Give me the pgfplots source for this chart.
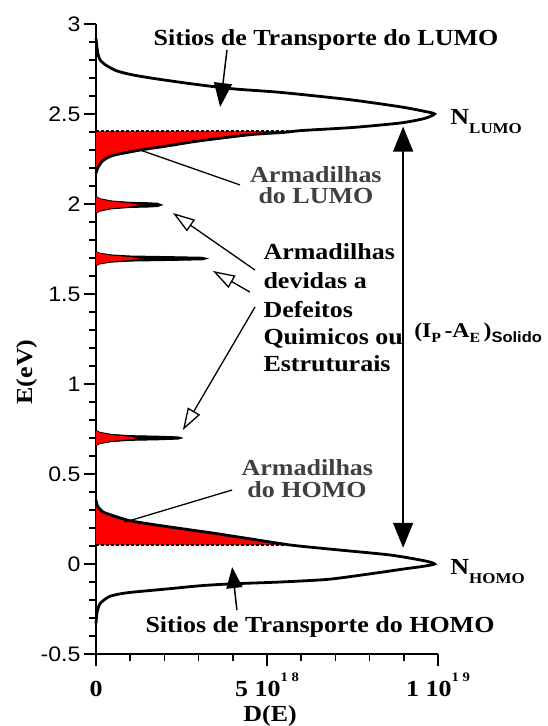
\documentclass[border=0pt]{standalone}
\usepackage{fontspec}
\setmainfont{Liberation Serif}[FakeStretch=1.13]
\newfontfamily\ticksans{Liberation Sans}[FakeStretch=1.1]
\usepackage{pgfplots}
\pgfplotsset{compat=1.18}
\usetikzlibrary{arrows.meta}

\definecolor{trapgray}{gray}{0.25}
\newcommand{\lbl}{\fontsize{23}{28}\selectfont\bfseries}
\newcommand{\sub}[1]{\raisebox{-9pt}{\fontsize{15}{15}\selectfont\bfseries #1}}
\newcommand{\expo}[1]{\raisebox{15pt}{\fontsize{13}{13}\selectfont\bfseries #1}}

\begin{document}
\begin{tikzpicture}
\path[use as bounding box] (-96pt,-72pt) rectangle (451pt,654pt);
\begin{axis}[
  at={(0,0)}, anchor=south west,
  scale only axis, width=342pt, height=630pt,
  xmin=0, xmax=10, ymin=-0.5, ymax=3,
  axis x line*=bottom, axis y line*=left,
  axis line style={line width=1.8pt, -},
  tick align=outside,
  major tick length=12pt, minor tick length=7pt,
  every tick/.style={black, line width=1.5pt},
  xtick={0,5,10}, minor xtick={1,2,3,4,6,7,8,9},
  xticklabels={0, {5 10\expo{1 8}}, {1 10\expo{1 9}}},
  ytick={-0.5,0,...,3}, minor y tick num=4,
  yticklabels={-0.5,0,0.5,1,1.5,2,2.5,3},
  xticklabel style={font=\lbl, anchor=base, text depth=0pt, yshift=-30pt},
  yticklabel style={font=\ticksans\fontsize{21}{21}\selectfont},
  xlabel={D(E)},
  xlabel style={font=\lbl, at={(axis description cs:0.509,0)}, anchor=base, yshift=-67pt},
  ylabel={E(eV)},
  ylabel style={font=\lbl, at={(axis description cs:0,0.4476)}, anchor=base, yshift=63pt},
  clip=false,
]

% trap tails below the LUMO band (between the curve and E = 2.405)
\addplot[fill=red, draw=none] coordinates {
  (0,2.405) (5.8,2.405) (5.5,2.398) (4.5,2.385) (3.0,2.35) (2.0,2.32)
  (1.3,2.30) (0.5,2.27) (0.2,2.24) (0.05,2.20) (0,2.17)} -- cycle;

% trap tails above the HOMO band (between the curve and E = 0.105)
\addplot[fill=red, draw=none] coordinates {
  (0,0.105) (5.7,0.105) (4.5,0.14) (3.3,0.175) (2.0,0.21) (1.0,0.24)
  (0.4,0.275) (0.2,0.29) (0.05,0.32) (0,0.355)} -- cycle;

% LUMO density of states
\addplot[black, line width=2.8pt, smooth, tension=0.4] coordinates {
  (0,2.92) (0.05,2.84) (0.12,2.80) (0.3,2.77) (0.6,2.74) (1.0,2.72)
  (1.6,2.70) (2.7,2.67) (4.0,2.64) (5.4,2.62) (7.4,2.58) (8.9,2.54)
  (9.6,2.515) (9.9,2.50) (9.6,2.475) (8.9,2.45) (7.5,2.425) (6.0,2.408)
  (5.5,2.398) (4.5,2.385) (3.0,2.35) (2.0,2.32) (1.3,2.30) (0.5,2.27)
  (0.2,2.24) (0.05,2.20) (0,2.17)};

% HOMO density of states
\addplot[black, line width=2.8pt, smooth, tension=0.4] coordinates {
  (0,0.355) (0.05,0.32) (0.2,0.29) (0.4,0.275) (1.0,0.24) (2.0,0.21)
  (3.3,0.175) (4.5,0.14) (5.7,0.105) (7.1,0.078) (8.6,0.05) (9.6,0.018)
  (9.9,0.0) (9.5,-0.015) (9.1,-0.025) (8.0,-0.055) (6.8,-0.085)
  (5.4,-0.10) (4.0,-0.11) (3.1,-0.12) (2.0,-0.14) (0.9,-0.16)
  (0.4,-0.18) (0.12,-0.22) (0.03,-0.27) (0,-0.33)};

% trap-edge reference levels
\addplot[black, line width=1.2pt, dash pattern=on 3pt off 2pt] coordinates {(0,2.405) (5.8,2.405)};
\addplot[black, line width=1.2pt, dash pattern=on 3pt off 2pt] coordinates {(0,0.105) (5.7,0.105)};

% discrete traps from chemical / structural defects
\addplot[fill=black, draw=black, line width=1pt] coordinates {
  (0,2.042) (0.1,2.030) (0.44,2.017) (1.0,2.009) (1.5,2.007) (1.8,2.004)
  (1.93,1.995) (1.8,1.986) (1.5,1.983) (1.0,1.981) (0.44,1.973)
  (0.1,1.960) (0,1.948)} -- cycle;
\addplot[fill=red, draw=none] coordinates {
  (0,2.040) (0.1,2.028) (0.44,2.014) (1.0,2.004) (1.29,1.995)
  (1.0,1.986) (0.44,1.976) (0.1,1.962) (0,1.950)} -- cycle;

\addplot[fill=black, draw=black, line width=1pt] coordinates {
  (0,1.736) (0.1,1.727) (0.44,1.717) (1.0,1.711) (2.0,1.708) (3.1,1.704)
  (3.25,1.697) (3.1,1.690) (2.0,1.686) (1.0,1.683) (0.44,1.677)
  (0.1,1.667) (0,1.658)} -- cycle;
\addplot[fill=red, draw=none] coordinates {
  (0,1.734) (0.1,1.725) (0.44,1.714) (1.0,1.705) (1.29,1.697)
  (1.0,1.689) (0.44,1.680) (0.1,1.669) (0,1.660)} -- cycle;

\addplot[fill=black, draw=black, line width=1pt] coordinates {
  (0,0.742) (0.1,0.732) (0.44,0.720) (1.0,0.713) (1.8,0.710) (2.4,0.706)
  (2.51,0.700) (2.4,0.694) (1.8,0.690) (1.0,0.687) (0.44,0.680)
  (0.1,0.668) (0,0.658)} -- cycle;
\addplot[fill=red, draw=none] coordinates {
  (0,0.740) (0.1,0.730) (0.44,0.717) (1.0,0.707) (1.23,0.700)
  (1.0,0.693) (0.44,0.683) (0.1,0.670) (0,0.660)} -- cycle;

% band labels and arrows
\node[font=\lbl, anchor=base] at (axis cs:6.725,2.883) {Sitios de Transporte do LUMO};
\draw[line width=1.5pt, -{Triangle[length=24pt, width=18pt]}]
  (axis cs:3.83,2.856) -- (axis cs:3.63,2.539);

\node[font=\lbl, anchor=base] at (axis cs:6.55,-0.378) {Sitios de Transporte do HOMO};
\draw[line width=1.5pt, -{Triangle[length=21pt, width=16pt]}]
  (axis cs:4.12,-0.256) -- (axis cs:3.98,-0.017);

\node[font=\lbl, anchor=base west] at (axis cs:10.26,2.439) {N\sub{LUMO}};
\node[font=\lbl, anchor=base west] at (axis cs:10.26,-0.061) {N\sub{HOMO}};

% transport gap
\draw[line width=1.5pt, {Triangle[length=25pt, width=20pt]}-{Triangle[length=25pt, width=20pt]}]
  (axis cs:8.98,0.09) -- (axis cs:8.98,2.43);
\node[font=\bfseries\fontsize{21}{21}\selectfont, anchor=base west, inner sep=0pt] at (axis cs:9.30,1.256)
  {(I\raisebox{-5pt}{\fontsize{14}{14}\selectfont P}\,-A\raisebox{-5pt}{\fontsize{14}{14}\selectfont E}\,)\raisebox{-5pt}{\ticksans\bfseries\fontsize{15}{15}\selectfont Solido}};

% trap labels
\node[font=\lbl, text=trapgray, anchor=base] at (axis cs:6.43,2.122) {Armadilhas};
\node[font=\lbl, text=trapgray, anchor=base] at (axis cs:6.43,2.0) {do LUMO};
\draw[line width=1.3pt] (axis cs:4.21,2.106) -- (axis cs:1.29,2.30);

\node[font=\lbl, text=trapgray, anchor=base] at (axis cs:6.18,0.494) {Armadilhas};
\node[font=\lbl, text=trapgray, anchor=base] at (axis cs:6.17,0.367) {do HOMO};
\draw[line width=1.3pt] (axis cs:3.98,0.411) -- (axis cs:0.85,0.233);

\node[font=\lbl, anchor=base west] at (axis cs:4.795,1.689) {Armadilhas};
\node[font=\lbl, anchor=base west] at (axis cs:4.795,1.533) {devidas a};
\node[font=\lbl, anchor=base west] at (axis cs:4.795,1.372) {Defeitos};
\node[font=\lbl, anchor=base west] at (axis cs:4.795,1.217) {Quimicos ou};
\node[font=\lbl, anchor=base west] at (axis cs:4.795,1.067) {Estruturais};

\draw[line width=1.3pt, -{Triangle[open, length=22pt, width=14pt]}]
  (axis cs:4.65,1.633) -- (axis cs:2.25,1.95);
\draw[line width=1.3pt, -{Triangle[open, length=22pt, width=14pt]}]
  (axis cs:4.50,1.511) -- (axis cs:3.42,1.628);
\draw[line width=1.3pt, -{Triangle[open, length=22pt, width=14pt]}]
  (axis cs:4.65,1.428) -- (axis cs:2.54,0.744);
\end{axis}
\end{tikzpicture}
\end{document}
